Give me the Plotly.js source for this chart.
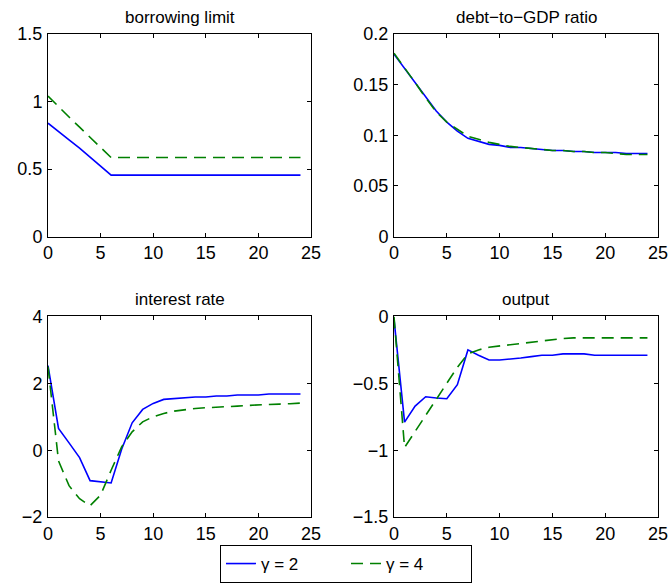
<!DOCTYPE html>
<html><head><meta charset="utf-8">
<script src="https://cdn.plot.ly/plotly-3.0.1.min.js"></script>
<style>body{margin:0;padding:0;background:#fff}#chart{width:670px;height:583px}</style>
</head><body><div id="chart"></div>
<script>
const periods = Array.from({length:25},(_,i)=>i);
const seriesNames = ['γ = 2','γ = 4'];
const panelTitles = ['borrowing limit','debt−to−GDP ratio','interest rate','output'];

const borrowG2 = [0.84,0.775,0.715,0.655,0.59,0.52,0.455,0.455,0.455,0.455,0.455,0.455,0.455,0.455,0.455,0.455,0.455,0.455,0.455,0.455,0.455,0.455,0.455,0.455,0.455];
const borrowG4 = [1.04,0.96,0.885,0.81,0.735,0.66,0.585,0.585,0.585,0.585,0.585,0.585,0.585,0.585,0.585,0.585,0.585,0.585,0.585,0.585,0.585,0.585,0.585,0.585,0.585];

const debtG2 = [0.180,0.166,0.153,0.138,0.124,0.113,0.104,0.097,0.094,0.091,0.090,0.088,0.088,0.087,0.086,0.085,0.085,0.084,0.084,0.083,0.083,0.083,0.082,0.082,0.082];
const debtG4 = [0.181,0.167,0.152,0.137,0.123,0.113,0.106,0.099,0.096,0.093,0.091,0.089,0.088,0.087,0.086,0.085,0.085,0.084,0.084,0.083,0.083,0.082,0.081,0.081,0.081];

const rateG2 = [2.53,0.65,0.22,-0.22,-0.91,-0.95,-0.98,0.03,0.82,1.22,1.40,1.52,1.55,1.58,1.59,1.59,1.62,1.62,1.65,1.65,1.65,1.68,1.68,1.68,1.68];
const rateG4 = [2.5,-0.32,-1.06,-1.45,-1.66,-1.34,-0.6,0.1,0.55,0.85,1.0,1.1,1.17,1.22,1.25,1.27,1.28,1.30,1.32,1.34,1.36,1.37,1.38,1.39,1.41];

const outG2 = [-0.02,-0.79,-0.67,-0.60,-0.61,-0.615,-0.51,-0.25,-0.29,-0.326,-0.326,-0.32,-0.31,-0.30,-0.29,-0.29,-0.28,-0.28,-0.28,-0.29,-0.29,-0.29,-0.29,-0.29,-0.29];
const outG4 = [0,-0.98,-0.86,-0.74,-0.62,-0.5,-0.38,-0.28,-0.25,-0.23,-0.22,-0.21,-0.20,-0.19,-0.18,-0.17,-0.165,-0.16,-0.16,-0.16,-0.16,-0.16,-0.16,-0.16,-0.16];

const panels = [[borrowG2,borrowG4],[debtG2,debtG4],[rateG2,rateG4],[outG2,outG4]];
const yRanges = [[0,1.5],[0,0.2],[-2,4],[-1.5,0]];
const yTicks = [[0,0.5,1,1.5],[0,0.05,0.1,0.15,0.2],[-2,0,2,4],[-1.5,-1,-0.5,0]];
const xTicks = [0,5,10,15,20,25];

const W=670,H=583;
const xDom = [[48/W,311/W],[394/W,658/W]];
const yDom = [[1-237/H,1-34/H],[1-518/H,1-317/H]];
const fontFam = 'Liberation Sans, Arial, Helvetica, sans-serif';

const traces=[]; const layout = {
  width:W,height:H,margin:{l:0,r:0,t:0,b:0},paper_bgcolor:'#fff',plot_bgcolor:'#fff',
  font:{family:fontFam,size:18,color:'#000'},
  showlegend:true,
  legend:{orientation:'h',x:220/W,y:1-546/H,xanchor:'left',yanchor:'top',bordercolor:'#000',borderwidth:1,
    font:{size:17,family:fontFam},bgcolor:'#fff',tracegroupgap:0,itemwidth:30,entrywidth:80,entrywidthmode:'pixels'},
  annotations:[]
};
const colors=['#0000ff','#008000'];
const dashes=['solid','12px,7px'];
panels.forEach((pair,i)=>{
  const col=i%2, row=Math.floor(i/2);
  const ax = i===0?'':String(i+1);
  pair.forEach((vals,s)=>{
    traces.push({x:periods,y:vals,type:'scatter',mode:'lines',name:seriesNames[s],
      showlegend:i===0,xaxis:'x'+ax,yaxis:'y'+ax,
      line:{color:colors[s],width:1.6,dash:dashes[s]},hoverinfo:'skip'});
  });
  const common={showline:true,mirror:'ticks',linecolor:'#000',linewidth:1,ticks:'inside',ticklen:4,
    tickcolor:'#000',showgrid:false,zeroline:false,tickfont:{size:18,family:fontFam}};
  layout['xaxis'+ax]=Object.assign({},common,{domain:xDom[col],range:[0,25],tickvals:xTicks,
    anchor:'y'+ax,ticklabelstandoff:0});
  layout['yaxis'+ax]=Object.assign({},common,{domain:yDom[row],range:yRanges[i],tickvals:yTicks[i],
    anchor:'x'+ax,ticklabelstandoff:1});
  layout.annotations.push({text:panelTitles[i],xref:'paper',yref:'paper',
    x:(xDom[col][0]+xDom[col][1])/2,y:yDom[row][1],xanchor:'center',yanchor:'bottom',yshift:5,
    showarrow:false,font:{size:17,family:fontFam}});
});
Plotly.newPlot('chart',traces,layout,{staticPlot:true});
</script></body></html>
